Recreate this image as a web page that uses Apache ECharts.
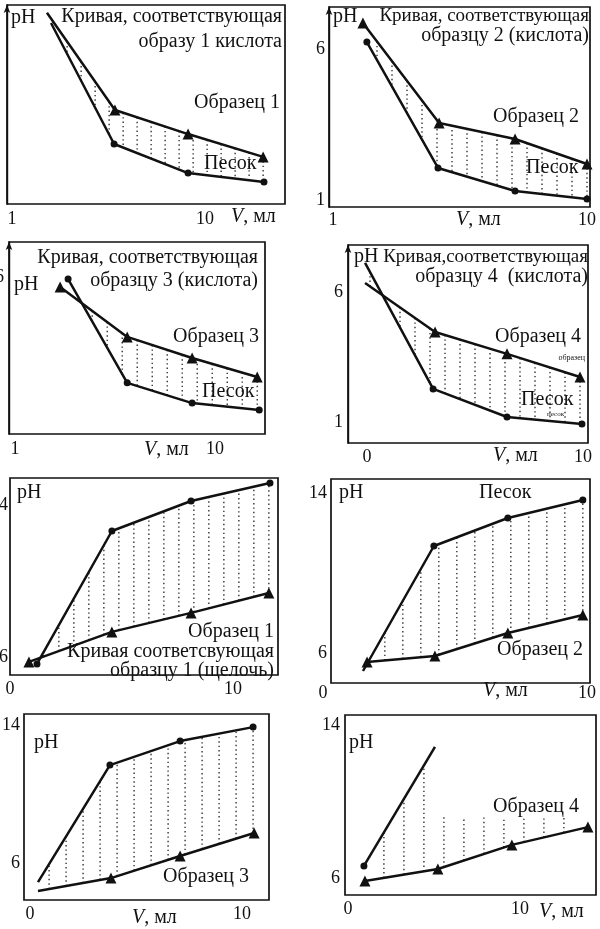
<!DOCTYPE html>
<html><head><meta charset="utf-8">
<script src="https://cdn.jsdelivr.net/npm/echarts@6/dist/echarts.min.js"></script>
<style>html,body{margin:0;padding:0;background:#fff}#c{width:600px;height:929px}</style>
</head><body><div id="c"></div>
<script>
// ---- data ----
// acid panels: "Образец" = triangles, "Песок" = circles
const p1Sample = [[2.63,7.17],[5.80,3.93],[9.21,3.13],[12.71,2.37]];
const p1Sand   = [[2.82,6.83],[5.76,2.80],[9.21,1.83],[12.75,1.53]];
const p2Sample = [[2.06,6.86],[4.76,3.55],[7.45,3.02],[10.0,2.19]];
const p2Sand   = [[2.20,6.23],[4.72,2.06],[7.45,1.30],[10.0,1.03]];
const p3Sample = [[3.03,5.67],[6.05,4.04],[8.97,3.35],[11.90,2.73]];
const p3Sand   = [[3.39,5.93],[6.05,2.54],[8.97,1.88],[11.99,1.65]];
const p4Sample = [[-0.09,6.35],[3.15,4.46],[6.48,3.62],[9.86,2.73]];
const p4Sand   = [[-0.09,7.12],[3.06,2.27],[6.48,1.19],[9.95,0.92]];
// alkali panels
const p5Sample = [[0.85,5.74],[4.57,7.32],[8.12,8.32],[11.61,9.37]];
const p5Sand   = [[1.21,5.63],[4.57,12.63],[8.12,14.21],[11.66,15.16]];
const p6Sample = [[1.41,5.55],[4.06,5.85],[6.91,7.00],[9.84,7.90]];
const p6Sand   = [[1.25,5.10],[4.02,11.35],[6.91,12.75],[9.84,13.65]];
const p7Sample = [[0.38,4.38],[3.82,5.13],[7.08,6.41],[10.57,7.74]];
const p7Sand   = [[0.38,4.90],[3.77,11.68],[7.08,13.07],[10.52,13.88]];
const p8Sample = [[0.99,5.84],[5.23,6.47],[9.53,7.73],[13.95,8.66]];
const p8Sand   = [[0.93,6.63],[5.06,12.85]];
// tick labels
const xTicks1 = [1,10], yTicks1 = [];
const xTicks2 = [1,10], yTicks2 = [1,6];
const xTicks3 = [1,10], yTicks3 = [6];
const xTicks4 = [0,10], yTicks4 = [1,6];
const xTicks5 = [0,10], yTicks5 = [6,14];
const xTicks6 = [0,10], yTicks6 = [6,14];
const xTicks7 = [0,10], yTicks7 = [6,14];
const xTicks8 = [0,10], yTicks8 = [6,14];
const hatchCap8 = 9.2;

// ---- layout / style ----
const FONT = '"Liberation Serif","DejaVu Serif",serif';
const INK = '#111';
const panels = [
 {box:[7,5,278,199],   x:[0.767,13.73], y:[0.8,7.43],  xt:xTicks1,yt:yTicks1,A:p1Sample,B:p1Sand,nmA:[0],nmB:[0],step:14,arrow:true, xm:6,ym:5},
 {box:[329,7,261,200], x:[0.858,10.106],y:[0.768,7.39],xt:xTicks2,yt:yTicks2,A:p2Sample,B:p2Sand,nmA:[],nmB:[],step:15,arrow:true, xm:4,ym:4},
 {box:[9,242,256,192], x:[0.73,12.25],  y:[0.87,7.14], xt:xTicks3,yt:yTicks3,A:p3Sample,B:p3Sand,nmA:[],nmB:[],step:15,arrow:true, xm:6,ym:5},
 {box:[348,245,240,198],x:[-0.88,10.23],y:[0.19,7.81], xt:xTicks4,yt:yTicks4,A:p4Sample,B:p4Sand,nmA:[0],nmB:[0],step:15,arrow:true, xm:5,ym:5},
 {box:[10,478,268,197],x:[0,12.02],     y:[5.05,15.42],xt:xTicks5,yt:yTicks5,A:p5Sample,B:p5Sand,nmA:[],nmB:[],step:15,arrow:false,xm:5,ym:2},
 {box:[331,479,259,204],x:[0,10.12],    y:[4.5,14.7],  xt:xTicks6,yt:yTicks6,A:p6Sample,B:p6Sand,nmA:[],nmB:[0],step:18,arrow:false,xm:1,ym:4,shift0:true},
 {box:[24,714,245,186],x:[-0.28,11.27], y:[3.86,14.64],xt:xTicks7,yt:yTicks7,A:p7Sample,B:p7Sand,nmA:[0],nmB:[0],step:17,arrow:false,xm:5,ym:4},
 {box:[345,715,251,180],x:[-0.17,14.42],y:[5.11,14.52],xt:xTicks8,yt:yTicks8,A:p8Sample,B:p8Sand,nmA:[],nmB:[1],step:20,arrow:false,xm:5,ym:5,cap:hatchCap8,endPad:24}
];

const labelStyle = {fontFamily:FONT,fontSize:18,color:INK};
const grid=[],xAxis=[],yAxis=[],series=[];
panels.forEach((P,i)=>{
  grid.push({left:P.box[0],top:P.box[1],width:P.box[2],height:P.box[3],show:true,borderColor:INK,borderWidth:1.7,
    backgroundColor:'transparent',containLabel:false,outerBoundsMode:'none'});
  xAxis.push({type:'value',gridIndex:i,min:P.x[0],max:P.x[1],axisLine:{show:false},axisTick:{show:false},splitLine:{show:false},
    axisLabel:Object.assign({customValues:P.xt,margin:P.xm,showMinLabel:true,showMaxLabel:true,
      formatter: v => (P.shift0 && v===0) ? '{s|0}' : String(v),
      rich:{s:{fontFamily:FONT,fontSize:18,color:INK,padding:[0,16,0,0]}}},labelStyle)});
  yAxis.push({type:'value',gridIndex:i,min:P.y[0],max:P.y[1],splitLine:{show:false},axisTick:{show:false},
    axisLine:{show:P.arrow,onZero:false,symbol:['none','arrow'],symbolSize:[5,8],lineStyle:{color:INK,width:1.4}},
    axisLabel:Object.assign({customValues:P.yt,margin:P.ym,showMinLabel:true,showMaxLabel:true},labelStyle)});
  const mk = (arr,nm) => arr.map((p,k)=> nm.indexOf(k)>=0 ? {value:p,symbol:'none'} : {value:p});
  series.push({type:'line',xAxisIndex:i,yAxisIndex:i,data:mk(P.A,P.nmA),symbol:'triangle',symbolSize:11,
    lineStyle:{color:INK,width:2.5},itemStyle:{color:INK},z:3,silent:true});
  series.push({type:'line',xAxisIndex:i,yAxisIndex:i,data:mk(P.B,P.nmB),symbol:'circle',symbolSize:7,
    lineStyle:{color:INK,width:2.5},itemStyle:{color:INK},z:3,silent:true});
  series.push({type:'custom',xAxisIndex:i,yAxisIndex:i,silent:true,z:1,data:[[P.x[0],P.y[0]]],
    renderItem:(params,api)=>{
      const A=P.A.map(p=>api.coord(p)), B=P.B.map(p=>api.coord(p));
      const yAt=(poly,x)=>{for(let k=0;k<poly.length-1;k++){const a=poly[k],b=poly[k+1];
        const lo=Math.min(a[0],b[0])-0.01,hi=Math.max(a[0],b[0])+0.01;
        if(x>=lo&&x<=hi){const t=(x-a[0])/((b[0]-a[0])||1);return a[1]+t*(b[1]-a[1]);}}return null;};
      const start=Math.max(A[0][0],B[0][0]);
      const end=(P.cap!=null?Math.max(A[A.length-1][0],B[B.length-1][0]):Math.min(A[A.length-1][0],B[B.length-1][0]))-(P.endPad||0);
      const capY=P.cap!=null?api.coord([0,P.cap])[1]:null;
      const kids=[];
      for(let x=end;x>start+2;x-=P.step){
        let ya=yAt(A,x), yb=yAt(B,x);
        if(ya==null) ya=capY; if(yb==null) yb=capY;
        if(ya==null||yb==null) continue;
        if(Math.abs(ya-yb)<3) continue;
        kids.push({type:'line',shape:{x1:x,y1:ya,x2:x,y2:yb},style:{stroke:'#222',lineWidth:1.3,lineDash:[1.4,3]}});
      }
      return {type:'group',children:kids};
    }});
});

// ---- annotations ----
const FS = 20;
const T=(text,x,y,align,size,rich)=>({type:'text',x:x,y:y,silent:true,z:10,
  style:{text:text,fontFamily:FONT,fontSize:size||FS,fill:INK,align:align||'left',verticalAlign:'middle',
    rich:rich||undefined}});
const VR={i:{fontStyle:'italic',fontFamily:FONT,fontSize:FS,fill:INK}};
const V='{i|V}, мл';
const graphic=[
 T('pH',11,18),T('Кривая, соответствующая',282,17,'right'),T('образу 1 кислота',282,42,'right'),
 T('Образец 1',280,103,'right'),T('Песок',204,164),T(V,231,217,'left',FS,VR),
 T('pH',333,17),T('Кривая, соответствующая',589,16,'right',19),T('образцу 2 (кислота)',589,36,'right'),
 T('Образец 2',579,117,'right'),T('Песок',526,168),T(V,456,220,'left',FS,VR),
 T('Кривая, соответствующая',258,258,'right'),T('pH',14,285),T('образцу 3 (кислота)',258,281,'right'),
 T('Образец 3',259,337,'right'),T('Песок',202,392),T(V,144,450,'left',FS,VR),
 T('pH',354,257),T('Кривая,соответствующая',588,257,'right',19),T('образцу 4  (кислота)',588,277,'right'),
 T('Образец 4',581,337,'right'),T('образец',585,358,'right',8),T('Песок',521,400),T('песок',547,414,'left',7),
 T(V,493,456,'left',FS,VR),
 T('pH',17,493),T('Образец 1',274,632,'right'),T('Кривая соответсвующая',274,652,'right'),T('образцу 1 (щелочь)',274,671,'right'),
 T('pH',339,493),T('Песок',479,493),T('Образец 2',583,650,'right'),T(V,483,691,'left',FS,VR),
 T('pH',34,743),T('Образец 3',249,877,'right'),T(V,132,918,'left',FS,VR),
 T('pH',349,743),T('Образец 4',579,807,'right'),T(V,539,912,'left',FS,VR)
];

const chart=echarts.init(document.getElementById('c'),null,{renderer:'canvas'});
chart.setOption({animation:false,backgroundColor:'#fff',grid,xAxis,yAxis,series,graphic});
</script></body></html>
